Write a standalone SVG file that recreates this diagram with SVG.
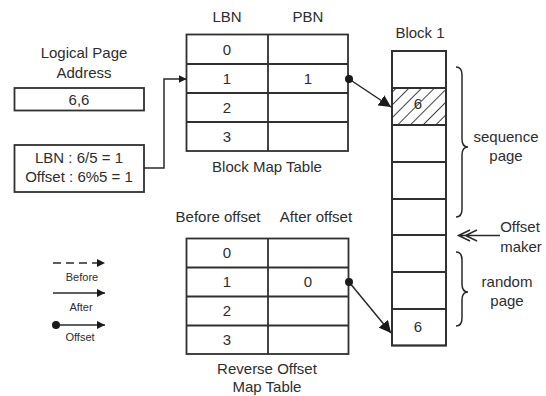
<svg xmlns="http://www.w3.org/2000/svg" width="546" height="396" viewBox="0 0 546 396">
  <style>
    text { font-family: "Liberation Sans", Arial, sans-serif; font-size: 15px; fill: #2e2e2e; text-anchor: middle; }
    .small { font-size: 11px; }
    .box { fill: #fff; stroke: #303030; stroke-width: 1.8; }
    .grid { stroke: #303030; stroke-width: 1.8; fill: none; }
    .conn { stroke: #2a2a2a; stroke-width: 1.5; fill: none; }
  </style>
  <defs>
    <marker id="arrow" viewBox="0 0 10 10" refX="10" refY="5" markerWidth="8" markerHeight="8" markerUnits="userSpaceOnUse" orient="auto">
      <path d="M0,0 L10,5 L0,10 Z" fill="#1a1a1a"/>
    </marker>
    <marker id="arrowBig" viewBox="0 0 10 10" refX="10" refY="5" markerWidth="12" markerHeight="12" markerUnits="userSpaceOnUse" orient="auto">
      <path d="M0,0 L10,5 L0,10 Z" fill="#1a1a1a"/>
    </marker>
    <marker id="dot" viewBox="0 0 10 10" refX="5" refY="5" markerWidth="8" markerHeight="8" markerUnits="userSpaceOnUse">
      <circle cx="5" cy="5" r="5" fill="#1a1a1a"/>
    </marker>
    <pattern id="hatch" patternUnits="userSpaceOnUse" width="9" height="9" patternTransform="rotate(45)">
      <line x1="0" y1="0" x2="0" y2="9" stroke="#222" stroke-width="1.7"/>
    </pattern>
  </defs>

  <!-- Logical page address input -->
  <g id="logical-address">
    <text x="84" y="58">Logical Page</text>
    <text x="84" y="78">Address</text>
    <rect class="box" x="14.5" y="88" width="129.5" height="22.5"/>
    <text x="79" y="104.5">6,6</text>
  </g>

  <g id="calc">
    <rect class="box" x="14.5" y="145" width="129.5" height="47"/>
    <text x="79" y="163">LBN : 6/5 = 1</text>
    <text x="79" y="182">Offset : 6%5 = 1</text>
  </g>

  <!-- Block map table -->
  <g id="block-map-table">
    <text x="227" y="22">LBN</text>
    <text x="308" y="22">PBN</text>
    <rect class="box" x="186.5" y="34.5" width="161.5" height="116.5"/>
    <path class="grid" d="M268,34.5 V151 M186.5,64 H348 M186.5,93 H348 M186.5,122 H348"/>
    <text x="227" y="54.5">0</text>
    <text x="227" y="84">1</text>
    <text x="308" y="84">1</text>
    <text x="227" y="113">2</text>
    <text x="227" y="142">3</text>
    <text x="267" y="172">Block Map Table</text>
  </g>

  <!-- Reverse offset map table -->
  <g id="reverse-offset-table">
    <text x="218" y="222">Before offset</text>
    <text x="316" y="222">After offset</text>
    <rect class="box" x="186.5" y="238.5" width="162" height="115.5"/>
    <path class="grid" d="M268,238.5 V354 M186.5,267.5 H348.5 M186.5,296.5 H348.5 M186.5,325.5 H348.5"/>
    <text x="227" y="258">0</text>
    <text x="227" y="287">1</text>
    <text x="308" y="287">0</text>
    <text x="227" y="316">2</text>
    <text x="227" y="345">3</text>
    <text x="267" y="374">Reverse Offset</text>
    <text x="267" y="392">Map Table</text>
  </g>

  <!-- Physical block 1 -->
  <g id="block-1">
    <text x="420" y="38">Block 1</text>
    <rect class="box" x="392" y="51" width="54" height="294.5"/>
    <rect x="392" y="88" width="54" height="37" fill="url(#hatch)"/>
    <path class="grid" d="M392,88 H446 M392,125 H446 M392,162 H446 M392,199 H446 M392,235 H446 M392,272 H446 M392,309 H446"/>
    <rect class="grid" x="392" y="51" width="54" height="294.5"/>
    <text x="418" y="109">6</text>
    <text x="418" y="332">6</text>
  </g>

  <g id="sequence-page">
    <path class="conn" d="M456,67 Q462,67 462,75 L462,139 Q462,147 468,147 Q462,147 462,155 L462,209 Q462,217 456,217"/>
    <text x="506" y="142">sequence</text>
    <text x="506" y="161">page</text>
  </g>

  <g id="random-page">
    <path class="conn" d="M456,252 Q462,252 462,260 L462,284 Q462,292 468,292 Q462,292 462,300 L462,318 Q462,326 456,326"/>
    <text x="507" y="287">random</text>
    <text x="507" y="306">page</text>
  </g>

  <g id="offset-maker">
    <path class="conn" d="M458.5,235.5 H500 M470,230 L458.5,235.5 L470,241 M477,230 L465.5,235.5 L477,241"/>
    <text x="520" y="232">Offset</text>
    <text x="521" y="252">maker</text>
  </g>

  <!-- Legend -->
  <g id="legend">
    <line class="conn" x1="53" y1="263" x2="105" y2="263" stroke-dasharray="8,5" marker-end="url(#arrow)"/>
    <text class="small" x="82" y="281">Before</text>
    <line class="conn" x1="53" y1="293" x2="105" y2="293" marker-end="url(#arrow)"/>
    <text class="small" x="81" y="311">After</text>
    <line class="conn" x1="56" y1="325" x2="105" y2="325" marker-start="url(#dot)" marker-end="url(#arrow)"/>
    <text class="small" x="80" y="341">Offset</text>
  </g>

  <!-- Connectors -->
  <g id="connectors">
    <polyline class="conn" points="144,168 164,168 164,79 186.5,79" marker-end="url(#arrow)"/>
    <line class="conn" x1="349" y1="79" x2="391" y2="107" marker-start="url(#dot)" marker-end="url(#arrowBig)"/>
    <line class="conn" x1="349" y1="282" x2="391" y2="333" marker-start="url(#dot)" marker-end="url(#arrowBig)"/>
  </g>
</svg>
